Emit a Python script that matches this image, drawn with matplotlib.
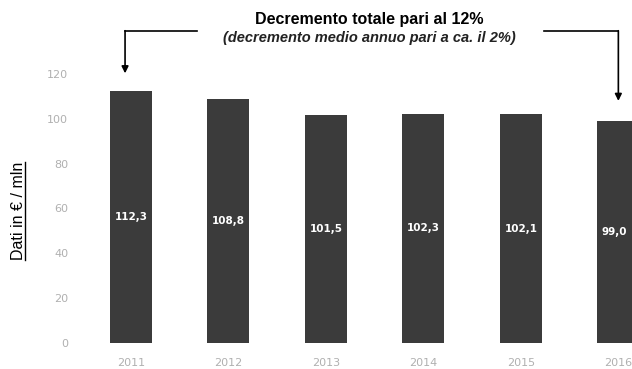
import matplotlib.pyplot as plt
import numpy as np

anni = ['2011', '2012', '2013', '2014', '2015', '2016']
valori = [112.3, 108.8, 101.5, 102.3, 102.1, 99.0]
etichette = ['112,3', '108,8', '101,5', '102,3', '102,1', '99,0']
yticks = [0, 20, 40, 60, 80, 100, 120]

fig = plt.figure(figsize=(6.32, 3.69), dpi=100)
ax = fig.add_axes([0.13, 0.0705, 0.87, 0.729])

x = np.arange(len(anni))
barre = ax.bar(x, valori, width=0.43, color='#3b3b3b')
ax.bar_label(barre, labels=etichette, label_type='center', color='white',
             fontsize=7.5, fontweight='bold')

ax.set_xlim(-0.5, 5.14)
ax.set_ylim(0, 120)
ax.set_xticks(x)
ax.set_xticklabels(anni)
ax.set_yticks(yticks)
ax.tick_params(length=0, labelsize=8, labelcolor='#b0b0b0')
ax.tick_params(axis='x', pad=11)
ax.tick_params(axis='y', pad=10)
for s in ax.spines.values():
    s.set_visible(False)

# frecce dal primo all'ultimo anno
y_linea = 139.3
xl = x[0] - 0.06
xr = x[5]
ax.plot([xl, 0.68], [y_linea, y_linea], color='black', lw=1.2, clip_on=False)
ax.annotate('', xy=(xl, valori[0] + 8), xytext=(xl, y_linea),
            arrowprops=dict(arrowstyle='-|>', color='black', lw=1.2, mutation_scale=10,
                            shrinkA=0, shrinkB=0),
            annotation_clip=False)
ax.plot([4.24, xr], [y_linea, y_linea], color='black', lw=1.2, clip_on=False)
ax.annotate('', xy=(xr, valori[5] + 9), xytext=(xr, y_linea),
            arrowprops=dict(arrowstyle='-|>', color='black', lw=1.2, mutation_scale=10,
                            shrinkA=0, shrinkB=0),
            annotation_clip=False)

fig.text(0.584, 0.946, 'Decremento totale pari al 12%', ha='center', va='center',
         fontsize=11.5, fontweight='bold', family=['Liberation Sans', 'DejaVu Sans'])
fig.text(0.584, 0.897, '(decremento medio annuo pari a ca. il 2%)', ha='center', va='center',
         fontsize=10.5, style='italic', fontweight='bold', color='#222222',
         family=['Liberation Sans', 'DejaVu Sans'])

# etichetta asse y sottolineata
yl = fig.text(0.03, 0.428, 'Dati in € / mln', rotation=90, ha='center', va='center',
              fontsize=11.5, family=['Liberation Sans', 'DejaVu Sans'])
fig.canvas.draw()
bb = yl.get_window_extent().transformed(fig.transFigure.inverted())
fig.add_artist(plt.Line2D([bb.x1 - 0.002, bb.x1 - 0.002], [bb.y0, bb.y1],
                          transform=fig.transFigure, color='black', lw=1.0))

fig.savefig('out.png', dpi=100)
